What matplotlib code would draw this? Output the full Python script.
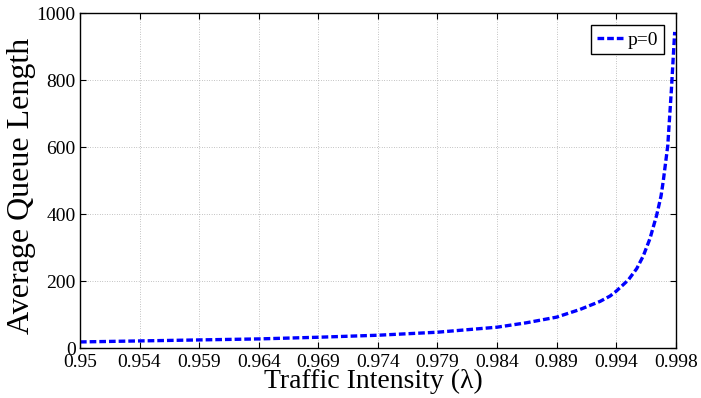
import matplotlib
matplotlib.use('Agg')
import matplotlib.pyplot as plt

# values
traffic = [0.95, 0.9548, 0.9596, 0.9644, 0.9692, 0.974, 0.9788, 0.9836, 0.98594,
           0.9884, 0.99029, 0.9919, 0.99271, 0.99319, 0.99351, 0.99418, 0.99486,
           0.99539, 0.99593, 0.99647, 0.99682, 0.99700, 0.99736, 0.99765, 0.99792]
queue_len = [19, 22, 25, 28, 33, 39, 48, 63, 76,
             93, 116, 140, 156, 170, 181, 204, 238,
             276, 328, 398, 455, 500, 605, 770, 945]

xtick_pos = [0.95, 0.9548, 0.9596, 0.9644, 0.9692, 0.974, 0.9788, 0.9836, 0.9884, 0.9932, 0.998]
xtick_labels = ['0.95', '0.954', '0.959', '0.964', '0.969', '0.974', '0.979', '0.984', '0.989', '0.994', '0.998']
ytick_pos = [0, 200, 400, 600, 800, 1000]

plt.rcParams['font.family'] = 'Liberation Serif'

fig = plt.figure(figsize=(7.01, 3.98), dpi=100)
ax = fig.add_axes([0.1141, 0.1249, 0.8498, 0.8412])

ax.plot(traffic, queue_len, color=(0, 0, 1), lw=2.4, ls=(0, (2.0, 0.9)), label='p=0')

ax.set_xlim(0.95, 0.998)
ax.set_ylim(0, 1000)
ax.set_xticks(xtick_pos)
ax.set_xticklabels(xtick_labels)
ax.set_yticks(ytick_pos)
ax.tick_params(direction='in', top=True, right=True, length=4.5, width=0.8,
               labelsize=14, pad=3)
ax.tick_params(axis='x', pad=4)
for s in ax.spines.values():
    s.set_linewidth(1.0)

ax.grid(True, ls=(0, (1, 2.5)), color='#8c8c8c', lw=0.5)

# axis titles placed as in the reference
fig.text(0.532, 0.041, 'Traffic Intensity (λ)', fontsize=20, ha='center', va='center')
fig.text(0.031, 0.533, 'Average Queue Length', fontsize=23, rotation=90,
         ha='center', va='center')

leg = ax.legend(loc='upper right', fontsize=14, handlelength=1.5, handletextpad=0.1,
                borderaxespad=0.6, borderpad=0.3, fancybox=False, framealpha=1)
leg.get_frame().set_edgecolor('black')
leg.get_frame().set_linewidth(1.0)

fig.savefig('out.png', dpi=100)
